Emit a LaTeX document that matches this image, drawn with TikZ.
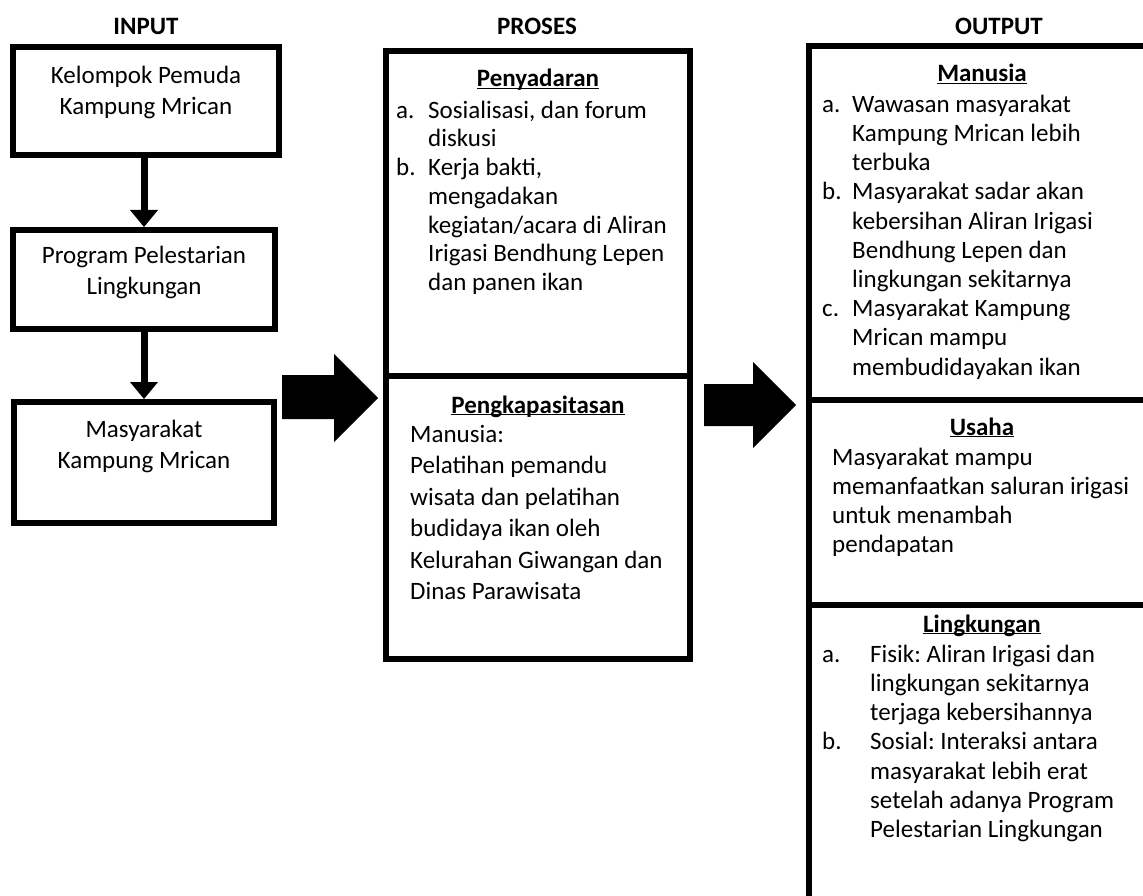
\documentclass[tikz,border=0pt]{standalone}
\usepackage{fontspec}
\setmainfont{Carlito}
\frenchspacing
\usetikzlibrary{arrows.meta}

\newcommand{\atas}{\rule{0pt}{20pt}}
\newcommand{\butir}[2][32pt]{\makebox[#1][l]{#2}}
\newcommand{\lanjut}[1][32pt]{\hspace*{#1}}

\tikzset{
  kotak/.style={draw, line width=6pt, inner sep=0pt, outer sep=0pt},
  teks/.style={inner sep=0pt, align=left, font=\fontsize{25}{#1}\selectfont},
  teks/.default=29.2,
  judul/.style={inner sep=0pt, anchor=base, font=\fontsize{25}{29}\selectfont\bfseries},
  panah/.style={line width=7pt, shorten >=3pt, -{Triangle[width=28pt,length=17pt,line width=0pt]}},
}

\begin{document}
\begin{tikzpicture}[x=1pt,y=-1pt]
  \useasboundingbox (0,0) rectangle (1143,896);
  \clip (0,0) rectangle (1143,896);
  % judul kolom
  \node[judul] (jinput) at (146,35) {INPUT};
  \node[judul] (jproses) at (537,35) {PROSES};
  \node[judul] (joutput) at (999,35) {OUTPUT};
  % kolom input
  \node[kotak, minimum width=266pt, minimum height=108pt] (kelompok) at (146,101) {};
  \node[kotak, minimum width=262pt, minimum height=99pt] (program) at (144,279.5) {};
  \node[kotak, minimum width=260pt, minimum height=121pt] (masyarakat) at (144,462.5) {};
  \node[teks=31, anchor=north, align=center] (tkelompok) at (146,63) {\atas Kelompok Pemuda\\Kampung Mrican};
  \node[teks=31, anchor=north, align=center] (tprogram) at (144,243) {\atas Program Pelestarian\\Lingkungan};
  \node[teks=31, anchor=north, align=center] (tmasyarakat) at (144,417) {\atas Masyarakat\\Kampung Mrican};
  \draw[panah] (program.north |- kelompok.south) -- (program.north);
  \draw[panah] (program.south) -- (masyarakat.north);
  % panah besar
  \fill (282,375) -- (334,375) -- (334,354) -- (378,398) -- (334,442) -- (334,419) -- (282,419) -- cycle;
  \fill (704,384) -- (753,384) -- (753,362) -- (796,405) -- (753,448) -- (753,426) -- (704,426) -- cycle;
  % kolom proses
  \node[kotak, minimum width=304pt, minimum height=325pt] (penyadaran) at (538,213.5) {};
  \node[kotak, minimum width=304pt, minimum height=283pt] (pengkapasitasan) at (538,517.5) {};
  \node[judul] (hpenyadaran) at (538,87) {\underline{\smash{Penyadaran}}};
  \node[teks=28.7, anchor=north west] (lpenyadaran) at (396,98) {\atas\butir{a.}Sosialisasi, dan forum\\
    \lanjut diskusi\\
    \butir{b.}Kerja bakti,\\
    \lanjut mengadakan\\
    \lanjut kegiatan/acara di Aliran\\
    \lanjut Irigasi Bendhung Lepen\\
    \lanjut dan panen ikan};
  \node[judul] (hpengkapasitasan) at (538,413) {\underline{\smash{Pengkapasitasan}}};
  \node[teks=31.5, anchor=north west] (lpengkapasitasan) at (410,422) {\atas Manusia:\\
    Pelatihan pemandu\\
    wisata dan pelatihan\\
    budidaya ikan oleh\\
    Kelurahan Giwangan dan\\
    Dinas Parawisata};
  % kolom output
  \node[kotak, minimum width=351pt, minimum height=354pt] (manusia) at (984.5,223) {};
  \node[kotak, minimum width=351pt, minimum height=205pt] (usaha) at (984.5,502.5) {};
  \node[kotak, minimum width=351pt, minimum height=310pt] (lingkungan) at (984.5,760) {};
  \node[judul] (hmanusia) at (982,82) {\underline{\smash{Manusia}}};
  \node[teks, anchor=north west] (lmanusia) at (822,92) {\atas\butir[30pt]{a.}Wawasan masyarakat\\
    \lanjut[30pt]Kampung Mrican lebih\\
    \lanjut[30pt]terbuka\\
    \butir[30pt]{b.}Masyarakat sadar akan\\
    \lanjut[30pt]kebersihan Aliran Irigasi\\
    \lanjut[30pt]Bendhung Lepen dan\\
    \lanjut[30pt]lingkungan sekitarnya\\
    \butir[30pt]{c.}Masyarakat Kampung\\
    \lanjut[30pt]Mrican mampu\\
    \lanjut[30pt]membudidayakan ikan};
  \node[judul] (husaha) at (982,435) {\underline{\smash{Usaha}}};
  \node[teks=29, anchor=north west] (lusaha) at (832,445) {\atas Masyarakat mampu\\
    memanfaatkan saluran irigasi\\
    untuk menambah\\
    pendapatan};
  \node[judul] (hlingkungan) at (982,632) {\underline{\smash{Lingkungan}}};
  \node[teks, anchor=north west] (llingkungan) at (822,642) {\atas\butir[48pt]{a.}Fisik: Aliran Irigasi dan\\
    \lanjut[48pt]lingkungan sekitarnya\\
    \lanjut[48pt]terjaga kebersihannya\\
    \butir[48pt]{b.}Sosial: Interaksi antara\\
    \lanjut[48pt]masyarakat lebih erat\\
    \lanjut[48pt]setelah adanya Program\\
    \lanjut[48pt]Pelestarian Lingkungan};
\end{tikzpicture}
\end{document}
